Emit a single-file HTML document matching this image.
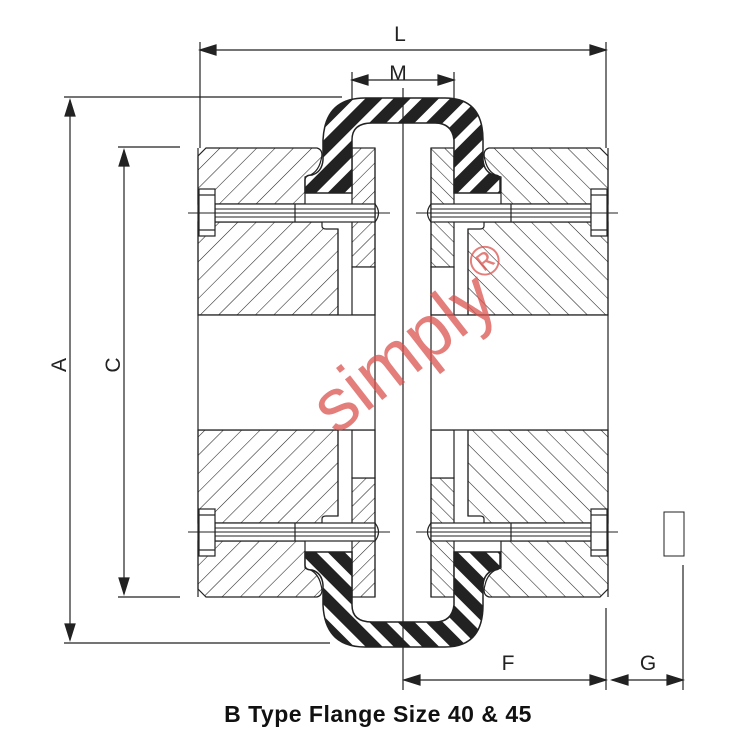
<!DOCTYPE html>
<html><head><meta charset="utf-8"><style>
html,body{margin:0;padding:0;background:#fff}
svg{display:block}
text{font-family:"Liberation Sans",Arial,sans-serif}
</style></head><body>
<svg width="756" height="744" viewBox="0 0 756 744" xmlns="http://www.w3.org/2000/svg">
<defs>
<pattern id="h" patternUnits="userSpaceOnUse" width="13" height="13" patternTransform="rotate(45)">
<line x1="0" y1="0" x2="0" y2="13" stroke="#222" stroke-width="1.1"/></pattern>
<pattern id="hp" patternUnits="userSpaceOnUse" width="10" height="10" patternTransform="rotate(45)">
<line x1="0" y1="0" x2="0" y2="10" stroke="#222" stroke-width="1.1"/></pattern>
<pattern id="hb" patternUnits="userSpaceOnUse" width="13" height="13" patternTransform="rotate(-45)">
<line x1="0" y1="0" x2="0" y2="13" stroke="#222" stroke-width="1.1"/></pattern>
<pattern id="hpb" patternUnits="userSpaceOnUse" width="10" height="10" patternTransform="rotate(-45)">
<line x1="0" y1="0" x2="0" y2="10" stroke="#222" stroke-width="1.1"/></pattern>
<pattern id="st" patternUnits="userSpaceOnUse" width="20" height="20" patternTransform="rotate(45)">
<rect width="20" height="20" fill="#222"/><rect x="0" y="0" width="8" height="20" fill="#fff"/></pattern>
<g id="base" stroke="#222" stroke-width="1.2">
  <line x1="338" y1="229" x2="338" y2="315"/>
  <rect x="352" y="267" width="23" height="48" fill="#fff"/>
  <rect x="198" y="315" width="177" height="57.5" fill="#fff" stroke="none"/>
  <line x1="198" y1="315" x2="375" y2="315"/>
  <line x1="198" y1="148" x2="198" y2="372.5"/>
  <line x1="375" y1="148" x2="375" y2="372.5"/>
  <rect x="215" y="204" width="160" height="18" fill="#fff"/>
  <line x1="215" y1="209" x2="375" y2="209" stroke-width="0.9"/>
  <line x1="215" y1="217" x2="375" y2="217" stroke-width="0.9"/>
  <line x1="295" y1="204" x2="295" y2="222"/>
  <path d="M375,204 Q382,213 375,222" fill="none"/>
  <rect x="199" y="189" width="16" height="47" fill="#fff"/>
  <line x1="199" y1="195" x2="215" y2="195"/>
  <line x1="199" y1="230" x2="215" y2="230"/>
  <line x1="188" y1="213" x2="390" y2="213" stroke-width="0.9"/>
</g>
<path id="hubU" d="M198,156 L206,148 L317,148 Q324,150 321,160 Q318,174 305,177 L305,204 L198,204 Z"/>
<path id="hubL" d="M198,222 L322,222 L322,226 Q322,229 326,229 L338,229 L338,315 L198,315 Z"/>
<rect id="pl" x="352" y="148" width="23" height="119"/>
<g id="qt" stroke="#222" stroke-width="1.2">
  <use href="#hubU" fill="url(#h)"/><use href="#hubL" fill="url(#h)"/><use href="#pl" fill="url(#hp)"/>
  <use href="#base"/>
</g>
<g id="qb" stroke="#222" stroke-width="1.2">
  <use href="#hubU" fill="url(#hb)"/><use href="#hubL" fill="url(#hb)"/><use href="#pl" fill="url(#hpb)"/>
  <use href="#base"/>
</g>
<path id="el" d="M305,193 L305,180 Q305,175 312,175 Q322,172 323,160 L323,140 Q325,98 365,98 L445,98 Q483,98 483,140 L483,160 Q484,172 494,175 Q500,175 500,180 L500,193 L454,193 L454,140 Q452,123 435,123 L372,123 Q352,123 352,140 L352,193 Z" fill="url(#st)" stroke="#222" stroke-width="1.5"/>
</defs>
<use href="#qt"/>
<use href="#qt" transform="matrix(-1 0 0 1 806 0)"/>
<use href="#qb" transform="matrix(1 0 0 -1 0 745)"/>
<use href="#qb" transform="matrix(-1 0 0 -1 806 745)"/>
<use href="#el"/>
<use href="#el" transform="matrix(1 0 0 -1 0 745)"/>
<line x1="403" y1="88" x2="403" y2="690" stroke="#222" stroke-width="1.2"/>
<g stroke="#222" stroke-width="1.2" fill="#222">
<line x1="200" y1="42" x2="200" y2="148"/><line x1="606" y1="42" x2="606" y2="148"/>
<line x1="200" y1="50" x2="606" y2="50"/>
<path d="M200,50 l16,-5 v10z M606,50 l-16,-5 v10z"/>
<line x1="352" y1="72" x2="352" y2="100"/><line x1="454" y1="72" x2="454" y2="100"/>
<line x1="352" y1="80" x2="454" y2="80"/>
<path d="M352,80 l16,-5 v10z M454,80 l-16,-5 v10z"/>
<line x1="64" y1="97" x2="342" y2="97"/><line x1="64" y1="643" x2="330" y2="643"/>
<line x1="70" y1="100" x2="70" y2="640"/>
<path d="M70,100 l-5,16 h10z M70,640 l-5,-16 h10z"/>
<line x1="118" y1="147" x2="180" y2="147"/><line x1="118" y1="597" x2="180" y2="597"/>
<line x1="124" y1="150" x2="124" y2="594"/>
<path d="M124,150 l-5,16 h10z M124,594 l-5,-16 h10z"/>
<line x1="606" y1="608" x2="606" y2="690"/><line x1="683" y1="565" x2="683" y2="690"/>
<line x1="404" y1="680" x2="606" y2="680"/>
<path d="M404,680 l16,-5 v10z M606,680 l-16,-5 v10z"/>
<line x1="612" y1="680" x2="683" y2="680"/>
<path d="M612,680 l16,-5 v10z M683,680 l-16,-5 v10z"/>
</g>
<rect x="664" y="512" width="20" height="44" fill="#fff" stroke="#222" stroke-width="1"/>
<g font-size="21" fill="#222" text-anchor="middle">
<text x="400" y="41">L</text>
<text x="398" y="80">M</text>
<text x="508" y="670">F</text>
<text x="648" y="670">G</text>
<text transform="translate(66,365) rotate(-90)">A</text>
<text transform="translate(120,365) rotate(-90)">C</text>
</g>
<text x="378" y="722" font-size="23" font-weight="bold" text-anchor="middle" fill="#111" letter-spacing="0.5">B Type Flange Size 40 &amp; 45</text>
<text transform="translate(336,436) rotate(-38)" font-size="74" fill="#d9534f" fill-opacity="0.75">simply<tspan font-size="42" dy="-32">®</tspan></text>
</svg>
</body></html>
